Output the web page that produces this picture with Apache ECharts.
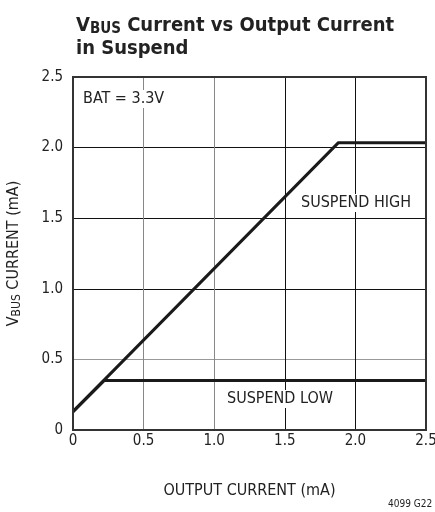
<!DOCTYPE html>
<html><head><meta charset="utf-8">
<script src="https://cdn.jsdelivr.net/npm/echarts@6/dist/echarts.min.js"></script>
<style>html,body{margin:0;padding:0;background:#fff}#c{width:435px;height:512px}</style>
</head><body><div id="c"></div>
<script>
var xTicks = [0, 0.5, 1.0, 1.5, 2.0, 2.5];
var yTicks = [0, 0.5, 1.0, 1.5, 2.0, 2.5];
var suspendHigh = [[0, 0.13], [1.88, 2.035], [2.5, 2.035]];
var suspendLow = [[0, 0.13], [0.22, 0.35], [2.5, 0.35]];
var FONT = '"Liberation Sans Narrow","DejaVu Sans Condensed","Roboto",sans-serif';
var chart = echarts.init(document.getElementById('c'), null, {renderer: 'canvas'});
chart.setOption({
  animation: false,
  backgroundColor: '#fff',
  grid: {left: 73, right: 9, top: 77, bottom: 82, show: false, containLabel: false, outerBoundsMode: 'none'},
  title: {
    left: 71, top: 9,
    text: '{v|V}{sub|BUS}{v| Current vs Output Current}\n{v|in Suspend}',
    textStyle: {
      rich: {
        v: {fontFamily: FONT, fontWeight: 'bold', fontSize: 20, color: '#222', lineHeight: 23},
        sub: {fontFamily: FONT, fontWeight: 'bold', fontSize: 15, color: '#222', verticalAlign: 'bottom', padding: [7, 0, 0, 0], lineHeight: 23}
      }
    }
  },
  xAxis: {
    type: 'value', min: 0, max: 2.5, interval: 0.5,
    name: 'OUTPUT CURRENT (mA)', nameLocation: 'middle', nameGap: 53,
    nameTextStyle: {fontFamily: FONT, fontSize: 16, color: '#222'},
    axisLine: {show: false}, axisTick: {show: false},
    axisLabel: {fontFamily: FONT, fontSize: 15, color: '#222', margin: 4,
      formatter: function (v) { return v === 0 ? '0' : v.toFixed(1); }},
    splitLine: {show: true, lineStyle: {color: ['#888', '#888', '#888', '#111', '#111', '#111'], width: 1}}
  },
  yAxis: {
    type: 'value', min: 0, max: 2.5, interval: 0.5,
    name: '{v|V}{sub|BUS}{v| CURRENT (mA)}', nameLocation: 'middle', nameGap: 50, nameRotate: 90,
    nameTextStyle: {rich: {
      v: {fontFamily: FONT, fontSize: 16, color: '#222'},
      sub: {fontFamily: FONT, fontSize: 12, color: '#222', verticalAlign: 'bottom', padding: [6, 0, 0, 0]}
    }},
    axisLine: {show: false}, axisTick: {show: false},
    axisLabel: {fontFamily: FONT, fontSize: 15, color: '#222', margin: 10,
      formatter: function (v) { return v === 0 ? '0' : v.toFixed(1); }},
    splitLine: {show: true, lineStyle: {color: ['#888', '#999', '#111', '#111', '#111', '#111'], width: 1}}
  },
  series: [
    {name: 'SUSPEND HIGH', type: 'line', data: suspendHigh, showSymbol: false, symbol: 'none',
      lineStyle: {color: '#1a1a1a', width: 3}, z: 3},
    {name: 'SUSPEND LOW', type: 'line', data: suspendLow, showSymbol: false, symbol: 'none',
      lineStyle: {color: '#1a1a1a', width: 3}, z: 3}
  ],
  graphic: [
    {type: 'rect', shape: {x: 73, y: 77, width: 353, height: 353}, style: {fill: 'none', stroke: '#333', lineWidth: 2}, z: 10},
    {type: 'text', left: 80, top: 90, z: 5, style: {text: 'BAT = 3.3V', fontFamily: FONT, fontSize: 16, fill: '#222', backgroundColor: '#fff', padding: [1, 3]}},
    {type: 'text', left: 299, top: 194, z: 5, style: {text: 'SUSPEND HIGH', fontFamily: FONT, fontSize: 16, fill: '#222', backgroundColor: '#fff', padding: [1, 2]}},
    {type: 'text', left: 225, top: 390, z: 5, style: {text: 'SUSPEND LOW', fontFamily: FONT, fontSize: 16, fill: '#222', backgroundColor: '#fff', padding: [1, 2]}},
    {type: 'text', left: 388, top: 499, z: 5, style: {text: '4099 G22', fontFamily: FONT, fontSize: 10, fill: '#222'}}
  ]
});
</script></body></html>
